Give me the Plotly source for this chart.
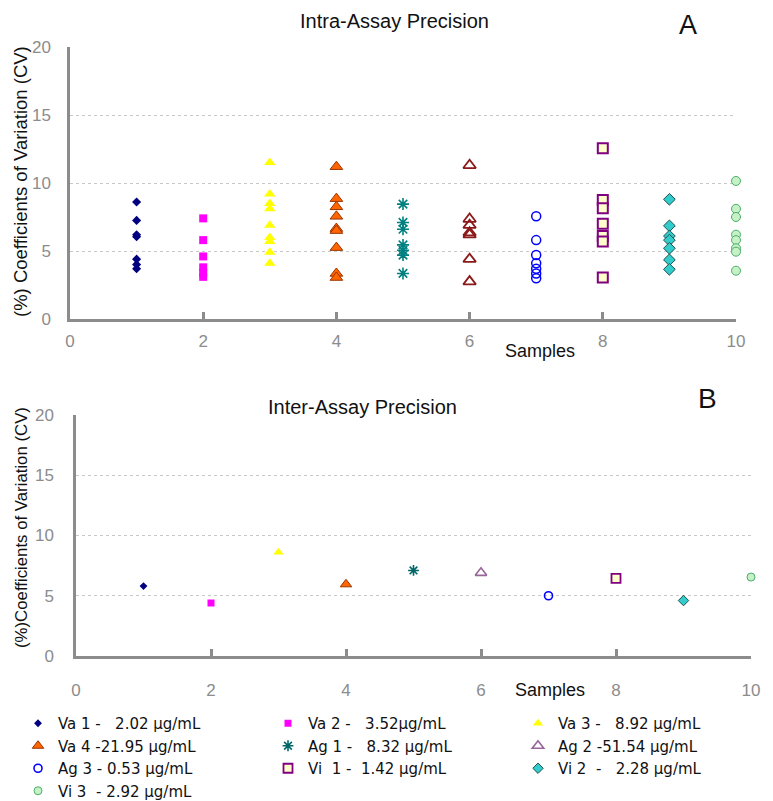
import plotly.graph_objects as go

# The page body keeps an 8px margin, so the figure is sized to fill the rest
# of the 773x801 window and all target positions are given in window pixels.
WIN_W, WIN_H, BODY = 773, 801, 8
W, H = WIN_W - BODY, WIN_H - BODY

# ---------------- data ----------------
samples = [1, 2, 3, 4, 5, 6, 7, 8, 9, 10]
legend_labels = [
    "Va 1 -\u00a0\u00a0\u00a02.02 µg/mL",
    "Va 2 -\u00a0\u00a0\u00a03.52µg/mL",
    "Va 3 -\u00a0\u00a0\u00a08.92 µg/mL",
    "Va 4 -21.95 µg/mL",
    "Ag 1 -\u00a0\u00a0\u00a08.32 µg/mL",
    "Ag 2 -51.54 µg/mL",
    "Ag 3 - 0.53 µg/mL",
    "Vi\u00a0\u00a01 -\u00a0\u00a01.42 µg/mL",
    "Vi 2\u00a0\u00a0-\u00a0\u00a0\u00a02.28 µg/mL",
    "Vi 3\u00a0\u00a0- 2.92 µg/mL",
]
# which legend column each series appears in (3 columns, filled row by row)
legend_columns = ["legend", "legend2", "legend3", "legend", "legend2",
                  "legend3", "legend", "legend2", "legend3", "legend"]

va1_intra = [8.6, 7.25, 6.2, 6.05, 4.4, 4.0, 3.7]
va2_intra = [7.4, 5.8, 4.6, 3.8, 3.4, 3.1]
va3_intra = [11.5, 9.2, 8.5, 8.1, 6.9, 6.0, 5.7, 4.9, 4.1]
va4_intra = [11.2, 8.85, 8.25, 7.55, 6.65, 6.5, 5.25, 3.35, 3.05]
ag1_intra = [8.45, 7.1, 6.6, 5.45, 5.05, 4.7, 3.35]
ag2_intra = [11.3, 7.35, 6.9, 6.35, 6.2, 4.4, 2.75]
ag3_intra = [7.55, 5.8, 4.7, 4.1, 3.7, 3.35, 3.0]
vi1_intra = [12.55, 8.75, 8.15, 7.0, 6.1, 5.7, 3.05]
vi2_intra = [8.8, 6.85, 6.1, 5.8, 5.2, 4.35, 3.65]
vi3_intra = [10.15, 8.1, 7.5, 6.2, 5.8, 5.2, 4.95, 3.55]

inter_cv = [5.8, 4.4, 8.6, 5.95, 7.1, 6.9, 5.0, 6.45, 4.6, 6.55]

y_ticks = [0, 5, 10, 15, 20]
x_ticks = [0, 2, 4, 6, 8, 10]

intra_series = [va1_intra, va2_intra, va3_intra, va4_intra, ag1_intra,
                ag2_intra, ag3_intra, vi1_intra, vi2_intra, vi3_intra]

# ---------------- styles ----------------
top_styles = [
    dict(symbol="diamond", size=7, color="#000080", line=dict(width=0)),
    dict(symbol="square", size=8, color="#FF00FF", line=dict(width=0)),
    dict(symbol="triangle-up", size=10, color="#FFFF00", line=dict(width=0)),
    dict(symbol="triangle-up", size=11, color="#FF6600", line=dict(width=1, color="#993300")),
    dict(symbol="asterisk-open", size=10, color="#008080", line=dict(width=1.6, color="#008080")),
    dict(symbol="triangle-up-open", size=11, color="#8B1A1A", line=dict(width=1.8, color="#8B1A1A")),
    dict(symbol="circle-open", size=9, color="#0000FF", line=dict(width=1.5, color="#0000FF")),
    dict(symbol="square", size=10, color="#FFFFCC", line=dict(width=2, color="#800080")),
    dict(symbol="diamond", size=9, color="#33CCCC", line=dict(width=1, color="#1F4F4F")),
    dict(symbol="circle", size=9, color="#C6F0C6", line=dict(width=1, color="#4CAF6A")),
]
bot_styles = [
    dict(symbol="diamond", size=6, color="#000080", line=dict(width=0)),
    dict(symbol="square", size=7, color="#FF00FF", line=dict(width=0)),
    dict(symbol="triangle-up", size=9, color="#FFFF00", line=dict(width=0)),
    dict(symbol="triangle-up", size=10, color="#FF6600", line=dict(width=1, color="#993300")),
    dict(symbol="asterisk-open", size=9, color="#006666", line=dict(width=1.6, color="#006666")),
    dict(symbol="triangle-up-open", size=10, color="#996699", line=dict(width=1.6, color="#996699")),
    dict(symbol="circle-open", size=8, color="#0000FF", line=dict(width=1.6, color="#0000FF")),
    dict(symbol="square", size=9, color="#FFFFCC", line=dict(width=1.8, color="#800080")),
    dict(symbol="diamond", size=8, color="#33CCCC", line=dict(width=1, color="#1F4F4F")),
    dict(symbol="circle", size=8, color="#C6F0C6", line=dict(width=1, color="#4CAF6A")),
]

fig = go.Figure()

for s, vals, st in zip(samples, intra_series, top_styles):
    fig.add_trace(go.Scatter(
        x=[s] * len(vals), y=vals, mode="markers", marker=st,
        showlegend=False, cliponaxis=False, xaxis="x", yaxis="y"))

for s, v, st, lab, lg in zip(samples, inter_cv, bot_styles, legend_labels, legend_columns):
    fig.add_trace(go.Scatter(
        x=[s], y=[v], mode="markers", marker=st, name=lab, legend=lg,
        showlegend=True, cliponaxis=False, xaxis="x2", yaxis="y2"))


def px_x(p):
    return (p - BODY) / W


def px_y(p):
    return 1 - (p - BODY) / H


AXC = "#8c8c8c"
common_x = dict(range=[0, 10], tickvals=x_ticks, showline=True, linecolor=AXC,
                linewidth=2.5, ticks="inside", ticklen=7, tickwidth=2.5,
                tickcolor=AXC, showgrid=False, zeroline=False,
                tickfont=dict(family="Liberation Sans, Arial", size=17, color=AXC))
common_y = dict(range=[0, 20], tickvals=y_ticks, showline=True, linecolor=AXC,
                linewidth=2.5, ticks="", showgrid=True, gridcolor="#c8c8c8",
                griddash="dot", gridwidth=1, zeroline=False,
                tickfont=dict(family="Liberation Sans, Arial", size=17, color=AXC))

legend_common = dict(orientation="v", xanchor="left", y=px_y(707), yanchor="top",
                     itemwidth=30, bgcolor="rgba(0,0,0,0)", tracegroupgap=0,
                     font=dict(family="DejaVu Sans", size=15, color="#111111"))

fig.update_layout(
    width=W, height=H,
    margin=dict(l=0, r=0, t=0, b=0, autoexpand=False),
    paper_bgcolor="white", plot_bgcolor="white",
    xaxis=dict(common_x, domain=[px_x(70), px_x(736)], anchor="y", ticklabelstandoff=5),
    yaxis=dict(common_y, domain=[px_y(319), px_y(47)], anchor="x", ticklabelstandoff=13),
    xaxis2=dict(common_x, domain=[px_x(76), px_x(751)], anchor="y2", ticklabelstandoff=17),
    yaxis2=dict(common_y, domain=[px_y(656), px_y(415)], anchor="x2", ticklabelstandoff=16),
    legend=dict(legend_common, x=px_x(18)),
    legend2=dict(legend_common, x=px_x(268)),
    legend3=dict(legend_common, x=px_x(518)),
    showlegend=True,
)

ann_font = "Liberation Sans, Arial"
annotations = [
    dict(text="Intra-Assay Precision", x=px_x(394), y=px_y(9), size=20, anchor="top"),
    dict(text="A", x=px_x(688), y=px_y(9), size=27, anchor="top"),
    dict(text="Samples", x=px_x(540), y=px_y(351), size=18),
    dict(text="(%) Coefficients of Variation (CV)", x=px_x(21), y=px_y(182), size=18.5, angle=-90),
    dict(text="Inter-Assay Precision", x=px_x(362), y=px_y(407), size=20),
    dict(text="B", x=px_x(707), y=px_y(398), size=28),
    dict(text="Samples", x=px_x(550), y=px_y(690), size=18),
    dict(text="(%)Coefficients of Variation (CV)", x=px_x(21), y=px_y(528), size=16.8, angle=-90),
]
for a in annotations:
    fig.add_annotation(
        text=a["text"], x=a["x"], y=a["y"], xref="paper", yref="paper",
        xanchor="center", yanchor=a.get("anchor", "middle"), showarrow=False,
        textangle=a.get("angle", 0), borderpad=0,
        font=dict(family=ann_font, size=a["size"], color="#111111"))

fig.write_html("out.html")
